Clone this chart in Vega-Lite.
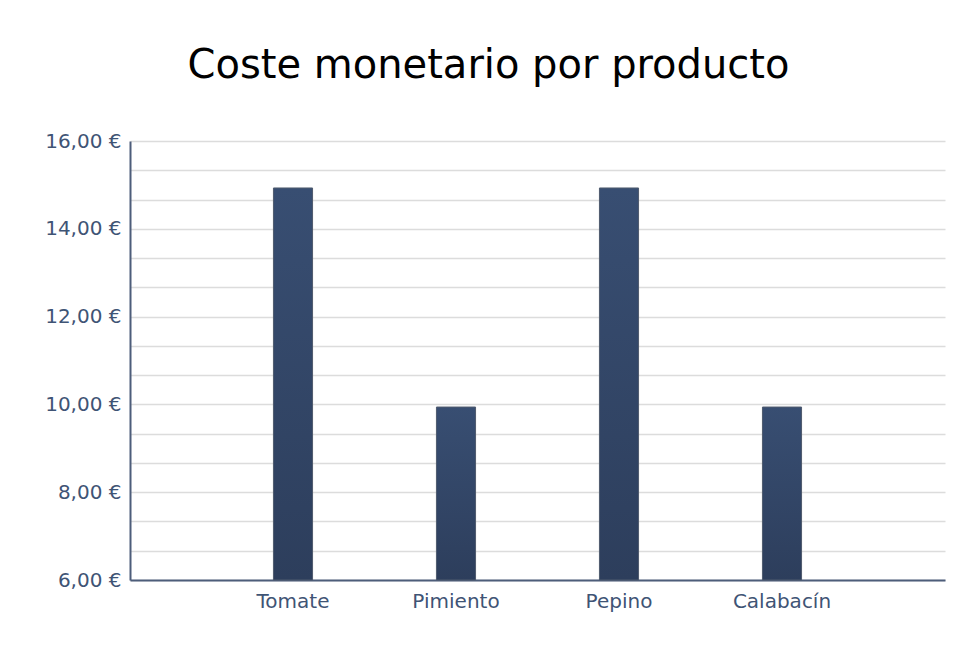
{
  "$schema": "https://vega.github.io/schema/vega-lite/v6.json",
  "autosize": {"type": "none"},
  "width": 815,
  "height": 439,
  "padding": {"left": 130, "top": 141, "right": 26, "bottom": 69},
  "background": "#ffffff",
  "config": {
    "font": "DejaVu Sans",
    "view": {"stroke": null}
  },
  "title": {
    "text": "Coste monetario por producto",
    "font": "DejaVu Sans",
    "fontSize": 40,
    "fontWeight": "normal",
    "color": "#000000",
    "frame": "group",
    "anchor": "middle",
    "baseline": "alphabetic",
    "offset": 13,
    "dx": -49
  },
  "data": {
    "values": [
      {"producto": "Tomate", "coste": 14.93},
      {"producto": "Pimiento", "coste": 9.94},
      {"producto": "Pepino", "coste": 14.93},
      {"producto": "Calabacín", "coste": 9.94}
    ]
  },
  "mark": {
    "type": "bar",
    "stroke": "#4f5b6e",
    "strokeWidth": 1,
    "color": {
      "gradient": "linear",
      "x1": 0, "y1": 0, "x2": 0, "y2": 1,
      "stops": [
        {"offset": 0, "color": "#384e72"},
        {"offset": 1, "color": "#2d3e5c"}
      ]
    }
  },
  "encoding": {
    "x": {
      "field": "producto",
      "type": "nominal",
      "sort": null,
      "scale": {"paddingInner": 0.76, "paddingOuter": 0.88},
      "axis": {
        "title": null,
        "labelAngle": 0,
        "labelFont": "DejaVu Sans",
        "labelFontSize": 20,
        "labelColor": "#3f5475",
        "labelPadding": 11,
        "ticks": false,
        "domainColor": "#4d5d7a",
        "domainWidth": 2
      }
    },
    "y": {
      "field": "coste",
      "type": "quantitative",
      "scale": {"domain": [6, 16], "zero": false, "nice": false},
      "axis": {
        "values": [6, 6.6667, 7.3333, 8, 8.6667, 9.3333, 10, 10.6667, 11.3333, 12, 12.6667, 13.3333, 14, 14.6667, 15.3333, 16],
        "labelExpr": "abs(datum.value - round(datum.value / 2) * 2) < 0.01 ? replace(format(datum.value, '.2f'), '.', ',') + ' €' : ''",
        "grid": true,
        "gridColor": "#dcdcdc",
        "gridWidth": 1.5,
        "ticks": false,
        "labelFont": "DejaVu Sans",
        "labelFontSize": 20,
        "labelColor": "#3f5475",
        "labelPadding": 9,
        "labelOverlap": false,
        "domainColor": "#4d5d7a",
        "domainWidth": 2,
        "title": null
      }
    },
    "y2": {"datum": 6}
  }
}
